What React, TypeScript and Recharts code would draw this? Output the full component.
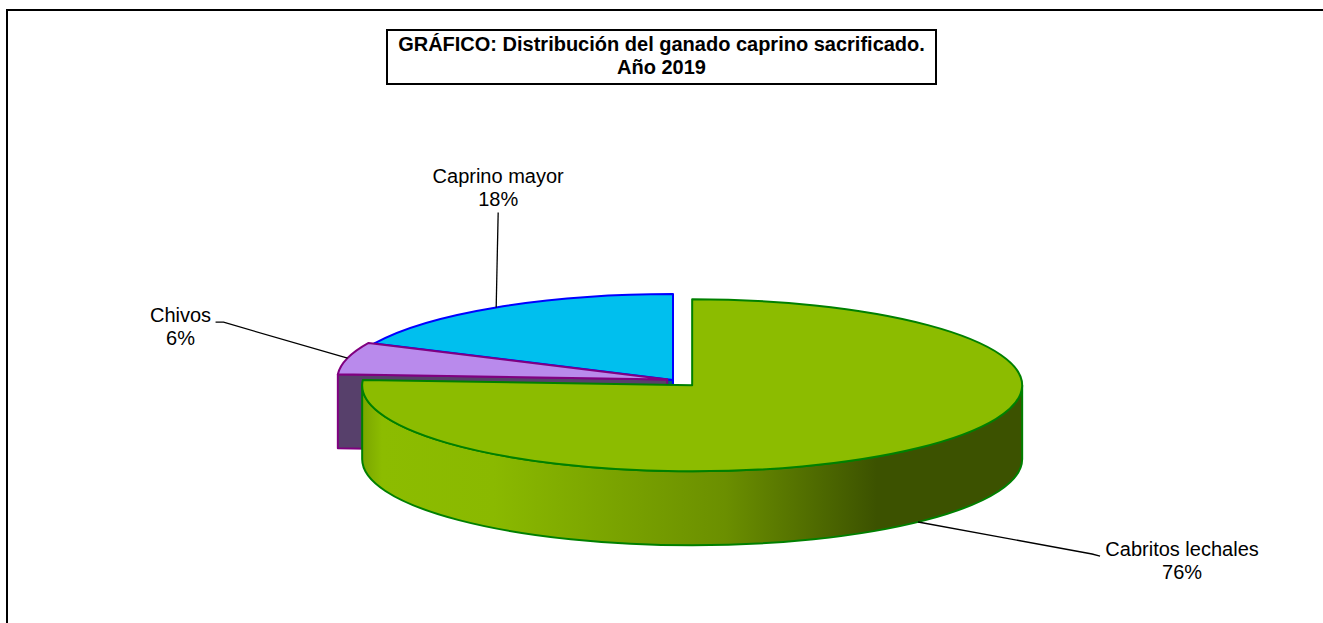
import React from "react";
import { PieChart, Pie } from "recharts";

// data (percent of goats slaughtered, 2019)
const categories = ["Caprino mayor", "Chivos", "Cabritos lechales"];
const shares = [18, 6, 76];

const data = categories.map((name, i) => ({ name, value: shares[i] }));

// fake 3D look
const TILT = 0.2606;
const DEPTH = 74;

const SLICE_STYLE: Record<string, { top: string; stroke: string; side: string; explode: number }> = {
  "Caprino mayor": { top: "#00bfee", stroke: "#0000ff", side: "#00607a", explode: 0 },
  Chivos: { top: "#b98aec", stroke: "#800080", side: "#57406b", explode: 6 },
  "Cabritos lechales": { top: "#8cbc00", stroke: "#008000", side: "url(#greenSide)", explode: 28 },
};

// leader line / text placement, relative to the anchor point
const LABEL_LAYOUT: Record<string, { bend: number[]; tail: number[]; text: number[] }> = {
  "Caprino mayor": { bend: [2, -95], tail: [0, 0], text: [0, -29] },
  Chivos: { bend: [-124, -36], tail: [-8, 0], text: [-35, 0] },
  "Cabritos lechales": { bend: [174, 32], tail: [8, 2], text: [82, 0] },
};

const FONT = "'Liberation Sans', Arial, sans-serif";
const RAD = Math.PI / 180;

const pt = (cx: number, cy: number, rx: number, ry: number, deg: number) => [
  cx + rx * Math.cos(deg * RAD),
  cy - ry * Math.sin(deg * RAD),
];

const center = (p: any) => {
  const st = SLICE_STYLE[p.name] || SLICE_STYLE[p.payload?.name];
  const m = p.midAngle * RAD;
  return [p.cx + st.explode * Math.cos(m), p.cy - st.explode * TILT * Math.sin(m)];
};

const Slice3D = (p: any) => {
  const st = SLICE_STYLE[p.name] || SLICE_STYLE[p.payload?.name];
  const [cx, cy] = center(p);
  const rx = p.outerRadius;
  const ry = p.outerRadius * TILT;
  const lo = Math.min(p.startAngle, p.endAngle);
  const hi = Math.max(p.startAngle, p.endAngle);
  const P = (a: number) => pt(cx, cy, rx, ry, a);
  const p1 = P(lo);
  const p2 = P(hi);
  const large = hi - lo > 180 ? 1 : 0;

  const top = `M${cx},${cy} L${p1[0]},${p1[1]} A${rx},${ry} 0 ${large} 0 ${p2[0]},${p2[1]} Z`;

  // radial faces that look toward the viewer
  const faces: string[] = [];
  const face = (a: number) => {
    const q = P(a);
    return `M${cx},${cy} L${q[0]},${q[1]} L${q[0]},${q[1] + DEPTH} L${cx},${cy + DEPTH} Z`;
  };
  if (Math.cos(lo * RAD) > 1e-6) faces.push(face(lo));
  if (Math.cos(hi * RAD) < -1e-6) faces.push(face(hi));

  // outer wall, only the front half
  const walls: string[] = [];
  for (const k of [0, 360]) {
    const s = Math.max(lo, 180 + k);
    const e = Math.min(hi, 360 + k);
    if (e - s > 0.01) {
      const a = P(s);
      const b = P(e);
      walls.push(
        `M${a[0]},${a[1]} A${rx},${ry} 0 0 0 ${b[0]},${b[1]} L${b[0]},${b[1] + DEPTH} A${rx},${ry} 0 0 1 ${a[0]},${a[1] + DEPTH} Z`
      );
    }
  }

  return (
    <g>
      <defs>
        <linearGradient id="greenSide" x1="0" y1="0" x2="1" y2="0">
          <stop offset="0" stopColor="#7aa600" />
          <stop offset="0.03" stopColor="#8cbc00" />
          <stop offset="0.2" stopColor="#8ab900" />
          <stop offset="0.55" stopColor="#6b8f00" />
          <stop offset="0.78" stopColor="#3c5200" />
          <stop offset="1" stopColor="#3c5200" />
        </linearGradient>
      </defs>
      {faces.map((d, i) => (
        <path key={"f" + i} d={d} fill={st.side} stroke={st.stroke} strokeWidth={2} strokeLinejoin="round" />
      ))}
      {walls.map((d, i) => (
        <path key={"w" + i} d={d} fill={st.side} stroke={st.stroke} strokeWidth={2} strokeLinejoin="round" />
      ))}
      <path d={top} fill={st.top} stroke={st.stroke} strokeWidth={2} strokeLinejoin="round" />
    </g>
  );
};

const renderLabel = (p: any) => {
  const lay = LABEL_LAYOUT[p.name];
  const [cx, cy] = center(p);
  const rx = p.outerRadius;
  const ry = p.outerRadius * TILT;
  const a = pt(cx, cy, rx, ry, p.midAngle);
  if (Math.sin(p.midAngle * RAD) < 0) a[1] += DEPTH;
  const b = [a[0] + lay.bend[0], a[1] + lay.bend[1]];
  const c = [b[0] + lay.tail[0], b[1] + lay.tail[1]];
  const tx = c[0] + lay.text[0];
  const ty = c[1] + lay.text[1];
  return (
    <g key={p.name}>
      <polyline
        points={`${a[0]},${a[1]} ${b[0]},${b[1]} ${c[0]},${c[1]}`}
        fill="none"
        stroke="#000"
        strokeWidth={1.3}
      />
      <text x={tx} y={ty} textAnchor="middle" fontFamily={FONT} fontSize={20} fill="#000">
        <tspan x={tx} y={ty}>{p.name}</tspan>
        <tspan x={tx} y={ty + 23}>{`${Math.round(p.percent * 100)}%`}</tspan>
      </text>
    </g>
  );
};

export default function App() {
  const pieProps: any = {
    shape: Slice3D,
    activeShape: Slice3D,
    inactiveShape: Slice3D,
  };
  return (
    <div
      style={{
        position: "absolute",
        left: 0,
        top: 0,
        width: 1323,
        height: 623,
        overflow: "hidden",
        background: "#fff",
      }}
    >
      {/* chart area border, only top and left show */}
      <div
        style={{
          position: "absolute",
          left: 6,
          top: 9,
          width: 1400,
          height: 700,
          borderTop: "2px solid #000",
          borderLeft: "2px solid #000",
        }}
      />
      <div style={{ position: "absolute", left: 0, top: 0 }}>
        <PieChart width={1323} height={623} margin={{ top: 0, right: 0, bottom: 0, left: 0 }}>
          <Pie
            data={data}
            dataKey="value"
            nameKey="name"
            cx={673}
            cy={380}
            outerRadius={330}
            startAngle={90}
            endAngle={450}
            {...pieProps}
            label={renderLabel}
            labelLine={false}
            isAnimationActive={false}
          />
        </PieChart>
      </div>
      <div
        style={{
          position: "absolute",
          left: 386,
          top: 29,
          width: 547,
          height: 50,
          border: "2px solid #000",
          background: "#fff",
          fontFamily: FONT,
          fontWeight: "bold",
          fontSize: 20,
          lineHeight: "23px",
          textAlign: "center",
          paddingTop: 2,
          boxSizing: "content-box",
        }}
      >
        GRÁFICO: Distribución del ganado caprino sacrificado.
        <br />
        Año 2019
      </div>
    </div>
  );
}
